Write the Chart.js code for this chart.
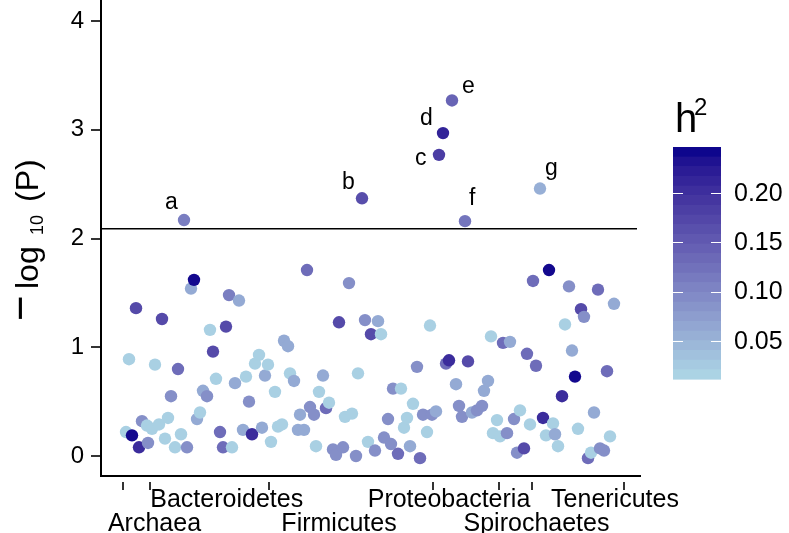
<!DOCTYPE html>
<html>
<head>
<meta charset="utf-8">
<script src="https://cdn.jsdelivr.net/npm/chart.js@4.4.0/dist/chart.umd.min.js"></script>
<style>
  html, body { margin: 0; padding: 0; background: #fff; }
</style>
</head>
<body>
<canvas id="chart" width="789" height="533"></canvas>
<script>
// genus position along the x axis (ordered by phylum), -log10(P) and heritability
const genusPos = [
  25, 28, 31, 35, 38, 41, 46, 47, 51, 54,
  58, 61, 64, 67, 70, 74, 77, 80, 86, 90,
  93, 96, 99, 102, 106, 109, 112, 115, 119, 122,
  125, 128, 131, 134, 138, 142, 145, 148, 151, 154,
  158, 161, 164, 167, 170, 174, 177, 181, 183, 187,
  189, 193, 197, 199, 203, 206, 209, 213, 215, 218,
  222, 225, 228, 232, 235, 238, 242, 244, 248, 251,
  255, 257, 264, 267, 270, 274, 277, 280, 283, 287,
  290, 292, 297, 300, 303, 306, 309, 312, 316, 319,
  322, 326, 329, 331, 335, 345, 348, 355, 358, 361,
  367, 371, 376, 381, 383, 387, 390, 392, 396, 399,
  402, 406, 409, 413, 416, 419, 423, 426, 429, 432,
  435, 442, 445, 448, 452, 454, 457, 461, 464, 468,
  471, 474, 477, 480, 483, 487, 490, 493, 497, 499,
  503, 506, 509, 513
];
const logP = [
  0.22, 0.89, 0.19, 1.36, 0.08, 0.32, 0.28, 0.12, 0.25, 0.84,
  0.29, 1.26, 0.16, 0.35, 0.55, 0.08, 0.80, 0.20, 0.08, 1.54,
  1.62, 0.34, 0.40, 0.60, 0.55, 1.16, 0.96, 0.71, 0.22, 0.08,
  1.19, 1.48, 0.08, 0.67, 1.43, 0.24, 0.73, 0.50, 0.20, 0.85,
  0.93, 0.26, 0.74, 0.84, 0.13, 0.59, 0.27, 0.29, 1.06, 1.01,
  0.76, 0.69, 0.24, 0.38, 0.24, 1.71, 0.45, 0.38, 0.09, 0.59,
  0.74, 0.44, 0.49, 0.06, 0.01, 1.23, 0.08, 0.36, 1.59, 0.39,
  0.00, 0.76, 1.25, 0.13, 1.12, 0.05, 1.24, 1.12, 0.17, 0.34,
  0.11, 0.62, 0.02, 0.62, 0.26, 0.35, 0.09, 0.48, 0.82, -0.02,
  0.38, 0.22, 1.20, 0.38, 0.41, 0.85, 0.88, 0.66, 0.46, 0.36,
  0.87, 0.40, 0.42, 0.46, 0.60, 0.69, 1.10, 0.21, 0.33, 0.18,
  1.04, 0.21, 1.05, 0.34, 0.03, 0.42, 0.07, 0.94, 0.29, 1.61,
  0.83, 0.35, 0.19, 1.71, 0.30, 0.20, 0.09, 0.55, 1.21, 1.56,
  0.97, 0.73, 0.25, 1.35, 1.28, -0.02, 0.03, 0.40, 1.53, 0.07,
  0.05, 0.78, 0.18, 1.40
];
const h2 = [
  .02, .02, .24, .17, .205, .09, .02, .09, .02, .02,
  .02, .17, .02, .02, .09, .02, .13, .02, .09, .06,
  .24, .06, .02, .06, .09, .02, .17, .02, .13, .13,
  .17, .11, .02, .06, .06, .06, .02, .09, .205, .02,
  .02, .06, .06, .02, .02, .02, .02, .02, .06, .06,
  .02, .06, .06, .06, .06, .13, .09, .09, .02, .02,
  .06, .13, .02, .09, .09, .17, .09, .02, .09, .02,
  .09, .02, .09, .02, .17, .09, .06, .02, .09, .09,
  .09, .09, .13, .02, .02, .02, .06, .02, .09, .13,
  .09, .02, .02, .09, .06, .13, .205, .06, .09, .09,
  .17, .06, .09, .09, .06, .06, .02, .02, .02, .02,
  .13, .09, .06, .09, .09, .02, .17, .13, .02, .13,
  .13, .205, .02, .24, .02, .06, .02, .205, .02, .09,
  .06, .24, .02, .17, .09, .13, .02, .06, .13, .09,
  .09, .13, .02, .06
];

// significant genera (above the threshold line)
const hitLetters = ['a', 'b', 'c', 'd', 'e', 'f', 'g'];
const hitPos = [83, 261, 338, 342, 351, 364, 439];
const hitLogP = [2.17, 2.37, 2.77, 2.97, 3.27, 2.16, 2.46];
const hitH2 = [0.11, 0.165, 0.185, 0.215, 0.14, 0.12, 0.055];

const thresholdLogP = 2.09;

// x axis: phylum tick marks and phylum names
const phylumTicks = [22, 49, 168, 332, 398, 431, 523];
const phylumNames = ['Archaea', 'Bacteroidetes', 'Firmicutes', 'Proteobacteria', 'Spirochaetes', 'Tenericutes'];
const phylumLabelPos = [53.5, 125.7, 238, 348, 435.5, 514];

const yTicks = [0, 1, 2, 3, 4];
const h2Range = [0.011, 0.247];
const h2Ticks = [0.05, 0.10, 0.15, 0.20];

// label nudges (pixels) for letters a-g
const letterNudge = [[-19, -11], [-20, -9], [-24, 10], [-23, -8], [10, -7], [4, -16], [5, -14]];

const FONT = "'Liberation Sans', Arial, Helvetica, sans-serif";

// lightblue -> darkblue gradient in Lab space (like ggplot)
function toLab(hex) {
  const n = parseInt(hex.slice(1), 16);
  const lin = c => { c /= 255; return c <= 0.04045 ? c / 12.92 : Math.pow((c + 0.055) / 1.055, 2.4); };
  const R = lin(n >> 16), G = lin((n >> 8) & 255), B = lin(n & 255);
  const X = (R * 0.4124 + G * 0.3576 + B * 0.1805) / 0.95047;
  const Y = R * 0.2126 + G * 0.7152 + B * 0.0722;
  const Z = (R * 0.0193 + G * 0.1192 + B * 0.9505) / 1.08883;
  const f = t => t > 0.008856 ? Math.cbrt(t) : 7.787 * t + 16 / 116;
  return [116 * f(Y) - 16, 500 * (f(X) - f(Y)), 200 * (f(Y) - f(Z))];
}
function fromLab(L, a, b) {
  const fy = (L + 16) / 116, fx = fy + a / 500, fz = fy - b / 200;
  const inv = t => t * t * t > 0.008856 ? t * t * t : (t - 16 / 116) / 7.787;
  const X = inv(fx) * 0.95047, Y = inv(fy), Z = inv(fz) * 1.08883;
  const R = X * 3.2406 - Y * 1.5372 - Z * 0.4986;
  const G = -X * 0.9689 + Y * 1.8758 + Z * 0.0415;
  const B = X * 0.0557 - Y * 0.2040 + Z * 1.0570;
  const g = c => {
    c = c <= 0.0031308 ? 12.92 * c : 1.055 * Math.pow(c, 1 / 2.4) - 0.055;
    return Math.round(Math.min(1, Math.max(0, c)) * 255);
  };
  return 'rgb(' + g(R) + ',' + g(G) + ',' + g(B) + ')';
}
const lowLab = toLab('#ADD8E6');
const highLab = toLab('#00008B');
function h2Color(v) {
  let t = (v - h2Range[0]) / (h2Range[1] - h2Range[0]);
  t = Math.min(1, Math.max(0, t));
  return fromLab(
    lowLab[0] + (highLab[0] - lowLab[0]) * t,
    lowLab[1] + (highLab[1] - lowLab[1]) * t,
    lowLab[2] + (highLab[2] - lowLab[2]) * t
  );
}

const thresholdLine = {
  id: 'thresholdLine',
  beforeDatasetsDraw(chart) {
    const { ctx, chartArea } = chart;
    const y = chart.scales.y.getPixelForValue(thresholdLogP);
    ctx.save();
    ctx.strokeStyle = '#000';
    ctx.lineWidth = 1.6;
    ctx.beginPath();
    ctx.moveTo(chartArea.left, y);
    ctx.lineTo(chartArea.right - 3, y);
    ctx.stroke();
    ctx.restore();
  }
};

const decorations = {
  id: 'decorations',
  afterDraw(chart) {
    const { ctx, chartArea } = chart;
    const xs = chart.scales.x;
    ctx.save();
    ctx.fillStyle = '#000';

    // letters next to significant genera
    ctx.font = '23px ' + FONT;
    ctx.textAlign = 'left';
    ctx.textBaseline = 'alphabetic';
    const meta = chart.getDatasetMeta(1);
    meta.data.forEach((pt, i) => {
      ctx.fillText(hitLetters[i], pt.x + letterNudge[i][0], pt.y + letterNudge[i][1]);
    });

    // phylum names, staggered in two rows
    ctx.font = '25px ' + FONT;
    ctx.textAlign = 'center';
    phylumNames.forEach((name, i) => {
      const row = i % 2 === 0 ? 55 : 31;
      ctx.fillText(name, xs.getPixelForValue(phylumLabelPos[i]), chartArea.bottom + row);
    });

    // y axis title: -log10(P)
    ctx.save();
    ctx.translate(38, (chartArea.top + chartArea.bottom) / 2);
    ctx.rotate(-Math.PI / 2);
    ctx.textAlign = 'left';
    ctx.font = '44px ' + FONT;
    ctx.fillText('\u2212', -83, -3);
    ctx.font = '32px ' + FONT;
    ctx.fillText('log', -51, 0);
    ctx.font = '18px ' + FONT;
    ctx.fillText('10', 3, 5);
    ctx.font = '32px ' + FONT;
    ctx.fillText('(P)', 36, 0);
    ctx.restore();

    // colour bar legend
    const bx = chartArea.right + 33, by = 147, bw = 48, bh = 232;
    const nbin = 24;
    for (let k = 0; k < nbin; k++) {
      const v = h2Range[1] - (k + 0.5) / nbin * (h2Range[1] - h2Range[0]);
      ctx.fillStyle = h2Color(v);
      ctx.fillRect(bx, by + k * bh / nbin, bw, bh / nbin + 0.6);
    }
    const h2ToY = v => by + bh * (h2Range[1] - v) / (h2Range[1] - h2Range[0]);
    ctx.strokeStyle = '#fff';
    ctx.lineWidth = 1;
    ctx.font = '25px ' + FONT;
    ctx.textAlign = 'left';
    ctx.textBaseline = 'middle';
    h2Ticks.forEach(v => {
      const y = Math.round(h2ToY(v)) + 0.5;
      ctx.beginPath();
      ctx.moveTo(bx, y); ctx.lineTo(bx + 10, y);
      ctx.moveTo(bx + bw - 10, y); ctx.lineTo(bx + bw, y);
      ctx.stroke();
      ctx.fillStyle = '#000';
      ctx.fillText(v.toFixed(2), bx + 61, h2ToY(v) + 1);
    });
    ctx.textBaseline = 'alphabetic';
    ctx.fillStyle = '#000';
    ctx.font = '40px ' + FONT;
    ctx.fillText('h', bx + 2, 132);
    ctx.font = '24px ' + FONT;
    ctx.fillText('2', bx + 21, 115);
    ctx.restore();
  }
};

const noPad = s => { s.paddingTop = 0; s.paddingBottom = 0; s.paddingLeft = 0; s.paddingRight = 0; };

new Chart(document.getElementById('chart'), {
  type: 'scatter',
  data: {
    datasets: [
      {
        label: 'genera',
        data: genusPos.map((x, i) => ({ x: x, y: logP[i] })),
        backgroundColor: ctx => h2Color(h2[ctx.dataIndex]),
        pointRadius: 6.2,
        borderWidth: 0
      },
      {
        label: 'significant',
        data: hitPos.map((x, i) => ({ x: x, y: hitLogP[i] })),
        backgroundColor: ctx => h2Color(hitH2[ctx.dataIndex]),
        pointRadius: 6.2,
        borderWidth: 0
      }
    ]
  },
  options: {
    responsive: false,
    animation: false,
    events: [],
    layout: { padding: { left: 0, right: 149, top: 0, bottom: 0 }, autoPadding: false },
    plugins: {
      legend: { display: false },
      tooltip: { enabled: false },
      title: { display: false }
    },
    scales: {
      x: {
        type: 'linear',
        min: 0,
        max: 539,
        afterBuildTicks: s => { s.ticks = phylumTicks.map(v => ({ value: v })); },
        afterFit: s => { s.height = 57; noPad(s); },
        ticks: { autoSkip: false, callback: () => '', font: { size: 1 } },
        grid: {
          drawOnChartArea: false, drawTicks: true, tickLength: 14,
          color: '#333', lineWidth: 2,
          tickBorderDash: [0, 5, 9, 60]
        },
        border: { display: true, color: '#000', width: 2 }
      },
      y: {
        min: -0.184,
        max: 4.194,
        afterBuildTicks: s => { s.ticks = yTicks.map(v => ({ value: v })); },
        afterFit: s => { s.width = 101; noPad(s); },
        ticks: {
          color: '#000',
          padding: 7,
          font: { family: FONT, size: 24 },
          callback: v => String(v)
        },
        grid: { drawOnChartArea: false, drawTicks: true, tickLength: 10, color: '#333', lineWidth: 2 },
        border: { display: true, color: '#000', width: 2 }
      }
    }
  },
  plugins: [thresholdLine, decorations]
});
</script>
</body>
</html>
